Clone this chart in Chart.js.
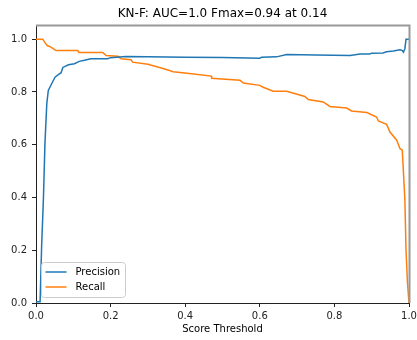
<!DOCTYPE html>
<html>
<head>
<meta charset="utf-8">
<script src="https://cdn.jsdelivr.net/npm/chart.js@4.4.1/dist/chart.umd.min.js"></script>
<style>
  html, body { margin: 0; padding: 0; background: #fff; }
</style>
</head>
<body>
<canvas id="prChart" width="417" height="340"></canvas>
<script>
const chartTitle = "KN-F: AUC=1.0 Fmax=0.94 at 0.14";
const xLabel = "Score Threshold";
const seriesNames = ["Precision", "Recall"];
const tickValues = [0, 0.2, 0.4, 0.6, 0.8, 1.0];

// precision curve
const precisionX = [0, 0.011, 0.015, 0.02, 0.024, 0.029, 0.033, 0.042, 0.051, 0.064, 0.067, 0.072,
  0.087, 0.103, 0.116, 0.13, 0.147, 0.192, 0.2, 0.241, 0.3, 0.4, 0.5, 0.6, 0.605, 0.645, 0.672,
  0.75, 0.842, 0.869, 0.895, 0.9, 0.93, 0.94, 0.958, 0.976, 0.982, 0.985, 0.989, 0.992, 1.0];
const precisionY = [0.005, 0.005, 0.21, 0.40, 0.605, 0.757, 0.806, 0.831, 0.856, 0.870, 0.872, 0.893,
  0.903, 0.907, 0.916, 0.920, 0.926, 0.926, 0.930, 0.934, 0.933, 0.932, 0.931, 0.928, 0.932, 0.933, 0.942,
  0.940, 0.938, 0.944, 0.944, 0.947, 0.948, 0.952, 0.955, 0.960, 0.957, 0.951, 0.964, 1.0, 1.0];

// recall curve
const recallX = [0, 0.018, 0.025, 0.03, 0.04, 0.045, 0.054, 0.112, 0.115, 0.179, 0.188, 0.22, 0.228,
  0.255, 0.259, 0.3, 0.343, 0.368, 0.417, 0.47, 0.471, 0.547, 0.556, 0.6, 0.609, 0.636, 0.672, 0.721,
  0.73, 0.77, 0.788, 0.833, 0.846, 0.887, 0.913, 0.918, 0.94, 0.949, 0.967, 0.976, 0.982, 0.989,
  0.992, 0.996, 1.0];
const recallY = [1.0, 1.0, 0.985, 0.976, 0.970, 0.965, 0.957, 0.957, 0.950, 0.950, 0.938, 0.935, 0.926,
  0.922, 0.913, 0.905, 0.888, 0.877, 0.869, 0.860, 0.852, 0.844, 0.834, 0.825, 0.818, 0.803, 0.803, 0.783,
  0.771, 0.762, 0.745, 0.739, 0.728, 0.722, 0.705, 0.690, 0.677, 0.648, 0.617, 0.585, 0.579, 0.39,
  0.20, 0.075, 0.0];

const colors = ["#1f77b4", "#ff7f0e"];
const FONT = "DejaVu Sans";

function toPoints(xs, ys) {
  return xs.map((x, i) => ({ x: x, y: ys[i] }));
}

// title, top/right spines and the in-plot legend
const decorations = {
  id: "decorations",
  afterDraw(chart) {
    const ctx = chart.ctx;
    const area = chart.chartArea;
    ctx.save();

    ctx.fillStyle = "#000";
    ctx.font = "12px '" + FONT + "'";
    ctx.textAlign = "center";
    ctx.textBaseline = "middle";
    ctx.fillText(chartTitle, (area.left + area.right) / 2, 14);

    ctx.strokeStyle = "#999";
    ctx.lineWidth = 2;
    ctx.beginPath();
    ctx.moveTo(area.left, area.top - 0.5);
    ctx.lineTo(area.right + 0.5, area.top - 0.5);
    ctx.lineTo(area.right + 0.5, area.bottom);
    ctx.stroke();

    // legend box, lower left
    const bx = area.left + 5.5, bw = 84, bh = 35;
    const by = area.bottom - 5.5 - bh;
    ctx.fillStyle = "rgba(255,255,255,0.8)";
    ctx.strokeStyle = "#cccccc";
    ctx.lineWidth = 1;
    ctx.beginPath();
    ctx.roundRect(bx, by, bw, bh, 3);
    ctx.fill();
    ctx.stroke();

    ctx.font = "10px '" + FONT + "'";
    ctx.textAlign = "left";
    seriesNames.forEach((name, i) => {
      const y = by + 9.5 + i * 15;
      ctx.strokeStyle = colors[i];
      ctx.lineWidth = 1.5;
      ctx.beginPath();
      ctx.moveTo(bx + 4, y);
      ctx.lineTo(bx + 25, y);
      ctx.stroke();
      ctx.fillStyle = "#000";
      ctx.fillText(name, bx + 34, y);
    });
    ctx.restore();
  }
};

const ctx = document.getElementById("prChart").getContext("2d");
new Chart(ctx, {
  type: "line",
  data: {
    datasets: [
      {
        label: seriesNames[0],
        data: toPoints(precisionX, precisionY),
        borderColor: colors[0],
        backgroundColor: colors[0],
        borderWidth: 1.5,
        pointRadius: 0,
        tension: 0,
        fill: false
      },
      {
        label: seriesNames[1],
        data: toPoints(recallX, recallY),
        borderColor: colors[1],
        backgroundColor: colors[1],
        borderWidth: 1.5,
        pointRadius: 0,
        tension: 0,
        fill: false
      }
    ]
  },
  options: {
    responsive: false,
    animation: false,
    layout: { padding: { top: 26, right: 8, bottom: 0, left: 0 } },
    plugins: {
      legend: { display: false },
      title: { display: false },
      tooltip: { enabled: false }
    },
    scales: {
      x: {
        type: "linear",
        min: 0,
        max: 1,
        afterBuildTicks: (scale) => { scale.ticks = tickValues.map(v => ({ value: v })); },
        afterFit: (scale) => {
          scale.height = 37;
          scale.paddingLeft = 0;
          scale.paddingRight = 0;
        },
        ticks: {
          color: "#222",
          font: { family: FONT, size: 10 },
          padding: 3,
          maxRotation: 0,
          callback: (v) => v.toFixed(1)
        },
        grid: { drawOnChartArea: false, drawTicks: true, tickLength: 4, tickColor: "#222" },
        border: { display: true, color: "#222", width: 1 },
        title: {
          display: true,
          text: xLabel,
          color: "#000",
          font: { family: FONT, size: 10 },
          padding: { top: 0, bottom: 5 }
        }
      },
      y: {
        type: "linear",
        min: 0,
        max: 1.05,
        afterBuildTicks: (scale) => { scale.ticks = tickValues.map(v => ({ value: v })); },
        afterFit: (scale) => {
          scale.width = 36;
          scale.paddingTop = 0;
          scale.paddingBottom = 0;
        },
        ticks: {
          color: "#222",
          font: { family: FONT, size: 10 },
          padding: 5,
          callback: (v) => v.toFixed(1)
        },
        grid: { drawOnChartArea: false, drawTicks: true, tickLength: 4, tickColor: "#222" },
        border: { display: true, color: "#222", width: 1 }
      }
    }
  },
  plugins: [decorations]
});
</script>
</body>
</html>
